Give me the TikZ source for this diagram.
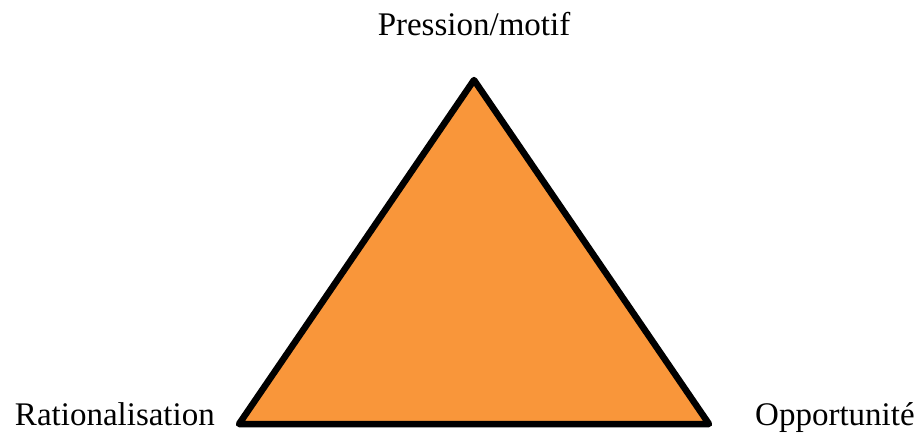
\documentclass[tikz,border=0pt]{standalone}
\usepackage{fontspec}
\setmainfont{Liberation Serif}
\usepackage{xcolor}
\usetikzlibrary{positioning}
\definecolor{fraudorange}{HTML}{F9963A}

\begin{document}
\begin{tikzpicture}[
  x=1pt, y=-1pt,
  corner/.style={font=\fontsize{33}{40}\selectfont, inner sep=0pt},
  side/.style={draw=black, fill=fraudorange, line width=6.5pt, line join=round}
]
\useasboundingbox (0,0) rectangle (923,442);

% --- Three corners of the triangle ---
\coordinate (top) at (474,80);
\coordinate (left) at (239,424);
\coordinate (right) at (709,424);

\draw[side] (top) -- (right) -- (left) -- cycle;

% --- Corner labels ---
\node[corner, anchor=base] (pression) at (474,35) {Pression/motif};
\node[corner, anchor=base east] (ratio) at (215,425) {Rationalisation};
\node[corner, anchor=base west] (oppo) at (755,425) {Opportunité};

\end{tikzpicture}
\end{document}
